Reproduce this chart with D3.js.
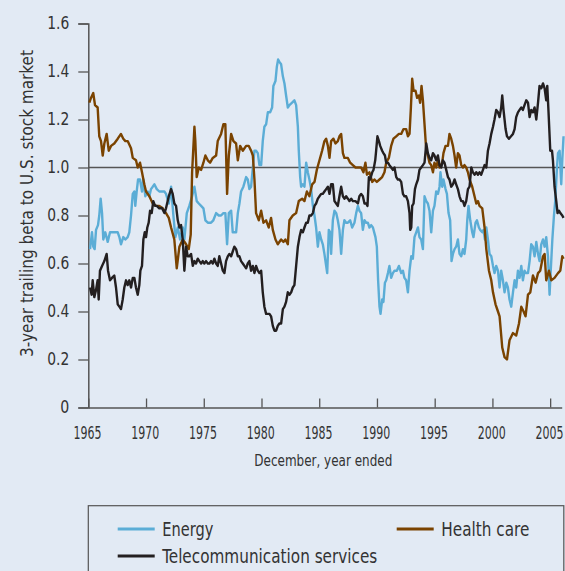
<!DOCTYPE html>
<html>
<head>
<meta charset="utf-8">
<script src="https://cdn.jsdelivr.net/npm/d3@7"></script>
<style>
  html, body { margin: 0; padding: 0; background: #e2eaf4; }
  svg { display: block; }
  text { font-family: "DejaVu Sans Condensed", "Liberation Sans Narrow", sans-serif; fill: #333; }
</style>
</head>
<body>
<svg id="chart" width="565" height="571"></svg>
<script>
const yTicks = [0, 0.2, 0.4, 0.6, 0.8, 1.0, 1.2, 1.4, 1.6];
const xTicks = [1965, 1970, 1975, 1980, 1985, 1990, 1995, 2000, 2005];
const seriesNames = ["Energy", "Health care", "Telecommunication services"];

const energy = [
[1965.15,0.66],[1965.32,0.73],[1965.43,0.67],[1965.55,0.66],[1965.67,0.74],[1965.84,0.76],[1965.95,0.80],[1966.07,0.87],
[1966.19,0.81],[1966.30,0.70],[1966.47,0.73],[1966.68,0.69],[1966.88,0.73],[1967.11,0.73],[1967.34,0.73],[1967.55,0.73],
[1967.69,0.71],[1967.83,0.68],[1968.03,0.71],[1968.21,0.70],[1968.41,0.71],[1968.55,0.73],[1968.70,0.80],[1968.85,0.89],
[1968.99,0.90],[1969.07,0.84],[1969.19,0.90],[1969.31,0.95],[1969.48,0.95],[1969.65,0.90],[1969.77,0.95],[1969.94,0.88],
[1970.15,0.90],[1970.29,0.88],[1970.43,0.91],[1970.58,0.92],[1970.72,0.93],[1970.93,0.91],[1971.15,0.90],[1971.39,0.90],
[1971.59,0.90],[1971.73,0.89],[1971.97,0.85],[1972.17,0.92],[1972.37,0.80],[1972.54,0.71],[1972.75,0.75],[1972.95,0.70],
[1973.18,0.75],[1973.32,0.70],[1973.53,0.81],[1973.75,0.84],[1973.99,0.88],[1974.19,0.92],[1974.39,0.86],[1974.57,0.85],
[1974.77,0.84],[1974.97,0.83],[1975.14,0.78],[1975.35,0.77],[1975.63,0.77],[1975.83,0.78],[1976.07,0.81],[1976.30,0.80],
[1976.50,0.80],[1976.70,0.81],[1976.87,0.81],[1977.02,0.68],[1977.17,0.81],[1977.37,0.82],[1977.51,0.73],[1977.65,0.73],
[1977.80,0.73],[1977.95,0.81],[1978.09,0.85],[1978.23,0.90],[1978.43,0.92],[1978.67,0.96],[1978.81,0.95],[1978.95,0.91],
[1979.10,0.92],[1979.25,1.00],[1979.39,1.07],[1979.53,1.07],[1979.68,1.06],[1979.82,1.01],[1979.97,1.01],[1980.11,1.11],
[1980.25,1.17],[1980.40,1.18],[1980.55,1.23],[1980.75,1.23],[1980.92,1.25],[1981.03,1.34],[1981.21,1.36],[1981.33,1.42],
[1981.44,1.45],[1981.55,1.44],[1981.70,1.43],[1981.85,1.38],[1981.99,1.35],[1982.13,1.30],[1982.28,1.25],[1982.42,1.26],
[1982.65,1.27],[1982.85,1.28],[1983.00,1.26],[1983.15,1.17],[1983.23,1.07],[1983.35,0.96],[1983.43,0.92],[1983.58,0.93],
[1983.72,0.92],[1983.87,1.02],[1984.01,0.98],[1984.15,0.95],[1984.30,0.91],[1984.45,0.84],[1984.59,0.80],[1984.73,0.75],
[1984.88,0.67],[1985.02,0.73],[1985.17,0.70],[1985.31,0.68],[1985.45,0.64],[1985.60,0.59],[1985.69,0.56],[1985.83,0.74],
[1985.95,0.73],[1986.03,0.64],[1986.18,0.78],[1986.32,0.82],[1986.47,0.81],[1986.61,0.78],[1986.75,0.74],[1986.90,0.64],
[1987.05,0.74],[1987.18,0.78],[1987.33,0.77],[1987.48,0.77],[1987.68,0.78],[1987.85,0.75],[1988.05,0.77],[1988.20,0.81],
[1988.35,0.84],[1988.48,0.82],[1988.63,0.81],[1988.78,0.74],[1988.92,0.78],[1989.07,0.77],[1989.21,0.77],[1989.35,0.75],
[1989.50,0.76],[1989.65,0.75],[1989.87,0.71],[1989.99,0.67],[1990.10,0.53],[1990.22,0.42],[1990.31,0.39],[1990.45,0.45],
[1990.56,0.44],[1990.69,0.52],[1990.80,0.53],[1990.95,0.56],[1991.08,0.59],[1991.23,0.54],[1991.38,0.56],[1991.52,0.57],
[1991.72,0.57],[1991.90,0.59],[1992.10,0.56],[1992.25,0.57],[1992.38,0.54],[1992.53,0.53],[1992.68,0.48],[1992.82,0.57],
[1992.97,0.63],[1993.11,0.62],[1993.25,0.71],[1993.40,0.73],[1993.55,0.75],[1993.68,0.71],[1993.83,0.70],[1993.98,0.66],
[1994.12,0.88],[1994.27,0.86],[1994.41,0.85],[1994.55,0.82],[1994.70,0.73],[1994.85,0.82],[1994.98,0.84],[1995.13,0.90],
[1995.28,0.89],[1995.42,0.92],[1995.50,0.98],[1995.65,0.92],[1995.76,0.95],[1995.94,0.91],[1996.06,0.89],[1996.20,0.81],
[1996.34,0.78],[1996.46,0.61],[1996.58,0.64],[1996.72,0.66],[1996.86,0.67],[1997.01,0.70],[1997.15,0.64],[1997.30,0.63],
[1997.45,0.66],[1997.58,0.64],[1997.73,0.70],[1997.82,0.78],[1997.93,0.84],[1998.08,0.78],[1998.25,0.73],[1998.36,0.71],
[1998.54,0.77],[1998.66,0.78],[1998.83,0.75],[1998.94,0.74],[1999.12,0.73],[1999.23,0.74],[1999.35,0.70],[1999.47,0.75],
[1999.61,0.70],[1999.75,0.64],[1999.90,0.63],[2000.05,0.59],[2000.18,0.56],[2000.33,0.59],[2000.48,0.57],[2000.62,0.50],
[2000.76,0.57],[2000.91,0.53],[2001.05,0.48],[2001.20,0.52],[2001.34,0.50],[2001.48,0.45],[2001.63,0.42],[2001.78,0.48],
[2001.92,0.53],[2002.06,0.50],[2002.21,0.57],[2002.35,0.54],[2002.50,0.59],[2002.64,0.53],[2002.78,0.57],[2002.92,0.56],
[2003.08,0.56],[2003.22,0.61],[2003.36,0.68],[2003.51,0.67],[2003.65,0.63],[2003.80,0.69],[2003.95,0.64],[2004.08,0.61],
[2004.23,0.68],[2004.38,0.70],[2004.52,0.67],[2004.66,0.71],[2004.81,0.63],[2004.95,0.47],[2005.04,0.56],[2005.19,0.70],
[2005.33,0.80],[2005.44,0.86],[2005.59,1.00],[2005.68,1.06],[2005.82,1.07],[2005.96,0.93],[2006.05,1.03],[2006.16,1.13]
];

const healthCare = [
[1965.09,1.27],[1965.23,1.29],[1965.43,1.31],[1965.58,1.26],[1965.81,1.25],[1965.95,1.13],[1966.10,1.11],[1966.25,1.05],
[1966.39,1.10],[1966.59,1.14],[1966.77,1.07],[1966.97,1.09],[1967.25,1.10],[1967.55,1.12],[1967.83,1.14],[1968.03,1.12],
[1968.21,1.11],[1968.41,1.11],[1968.70,1.08],[1968.85,1.04],[1969.13,1.03],[1969.28,1.00],[1969.48,1.02],[1969.65,0.98],
[1969.85,0.93],[1970.00,0.90],[1970.29,0.88],[1970.58,0.85],[1970.87,0.84],[1971.15,0.84],[1971.45,0.83],[1971.73,0.81],
[1971.97,0.79],[1972.17,0.75],[1972.45,0.70],[1972.66,0.58],[1972.89,0.67],[1973.18,0.70],[1973.47,0.68],[1973.70,0.66],
[1973.87,0.72],[1973.99,0.98],[1974.19,1.17],[1974.27,1.11],[1974.39,0.96],[1974.57,1.00],[1974.77,0.99],[1974.97,1.02],
[1975.14,1.05],[1975.35,1.03],[1975.55,1.02],[1975.78,1.04],[1976.07,1.05],[1976.21,1.11],[1976.50,1.14],[1976.70,1.18],
[1976.87,1.18],[1977.02,0.89],[1977.17,1.05],[1977.37,1.14],[1977.57,1.11],[1977.80,1.10],[1977.95,1.03],[1978.15,1.09],
[1978.38,1.07],[1978.67,1.09],[1978.90,1.09],[1979.10,1.07],[1979.25,1.05],[1979.39,0.95],[1979.53,0.81],[1979.77,0.78],
[1979.97,0.82],[1980.17,0.77],[1980.40,0.78],[1980.63,0.75],[1980.83,0.79],[1980.98,0.74],[1981.21,0.70],[1981.41,0.68],
[1981.70,0.70],[1981.90,0.69],[1982.07,0.70],[1982.28,0.68],[1982.42,0.78],[1982.71,0.80],[1983.00,0.81],[1983.23,0.86],
[1983.52,0.87],[1983.72,0.86],[1983.93,0.90],[1984.15,0.88],[1984.39,0.93],[1984.59,0.94],[1984.79,0.99],[1985.02,1.03],
[1985.25,1.07],[1985.45,1.11],[1985.60,1.12],[1985.75,1.09],[1985.89,1.04],[1986.03,1.11],[1986.23,1.12],[1986.41,1.10],
[1986.61,1.11],[1986.75,1.13],[1986.90,1.14],[1987.05,1.06],[1987.18,1.04],[1987.48,1.04],[1987.68,1.02],[1987.91,1.01],
[1988.14,1.00],[1988.35,1.00],[1988.63,1.00],[1988.83,0.98],[1989.00,1.02],[1989.13,0.97],[1989.35,0.98],[1989.59,0.94],
[1989.78,0.95],[1989.99,0.94],[1990.22,0.95],[1990.45,0.96],[1990.65,0.98],[1990.80,1.02],[1991.03,1.04],[1991.23,1.09],
[1991.43,1.12],[1991.67,1.13],[1991.90,1.14],[1992.10,1.14],[1992.30,1.16],[1992.53,1.16],[1992.68,1.13],[1992.82,1.14],
[1992.94,1.25],[1993.05,1.37],[1993.17,1.32],[1993.34,1.32],[1993.48,1.29],[1993.63,1.30],[1993.74,1.27],[1993.86,1.34],
[1993.98,1.28],[1994.12,1.18],[1994.27,1.07],[1994.41,1.05],[1994.55,1.02],[1994.70,1.01],[1994.85,0.98],[1994.98,1.02],
[1995.13,1.00],[1995.28,1.03],[1995.42,1.00],[1995.65,1.02],[1995.76,1.06],[1995.94,1.09],[1996.15,1.09],[1996.28,1.14],
[1996.43,1.12],[1996.58,1.09],[1996.72,1.05],[1996.86,1.00],[1997.01,1.06],[1997.15,1.05],[1997.30,1.01],[1997.45,1.00],
[1997.58,1.01],[1997.73,1.00],[1997.88,0.98],[1998.02,0.95],[1998.25,0.92],[1998.45,0.88],[1998.60,0.85],[1998.75,0.86],
[1998.88,0.84],[1999.12,0.83],[1999.32,0.75],[1999.47,0.66],[1999.70,0.57],[1999.90,0.53],[2000.05,0.48],[2000.27,0.43],
[2000.48,0.40],[2000.62,0.38],[2000.85,0.25],[2001.05,0.21],[2001.26,0.20],[2001.48,0.28],[2001.78,0.31],[2002.06,0.30],
[2002.30,0.35],[2002.50,0.42],[2002.70,0.40],[2002.87,0.38],[2003.08,0.47],[2003.28,0.48],[2003.51,0.55],[2003.74,0.52],
[2003.95,0.56],[2004.14,0.57],[2004.38,0.63],[2004.52,0.64],[2004.66,0.53],[2004.90,0.57],[2005.10,0.53],[2005.38,0.54],
[2005.68,0.56],[2005.88,0.57],[2006.05,0.63],[2006.16,0.62]
];

const telecom = [
[1965.15,0.50],[1965.29,0.47],[1965.38,0.53],[1965.52,0.46],[1965.67,0.49],[1965.81,0.53],[1965.90,0.45],[1966.01,0.57],
[1966.19,0.59],[1966.39,0.61],[1966.59,0.64],[1966.71,0.57],[1966.88,0.53],[1967.05,0.54],[1967.25,0.55],[1967.40,0.50],
[1967.55,0.43],[1967.69,0.42],[1967.83,0.41],[1967.98,0.45],[1968.12,0.50],[1968.27,0.53],[1968.41,0.51],[1968.55,0.53],
[1968.70,0.50],[1968.85,0.54],[1968.99,0.54],[1969.13,0.50],[1969.28,0.47],[1969.42,0.51],[1969.51,0.57],[1969.65,0.59],
[1969.77,0.70],[1969.89,0.73],[1970.00,0.71],[1970.11,0.75],[1970.23,0.77],[1970.35,0.82],[1970.49,0.81],[1970.63,0.86],
[1970.78,0.84],[1970.93,0.84],[1971.15,0.83],[1971.39,0.83],[1971.59,0.81],[1971.73,0.83],[1971.97,0.88],[1972.17,0.91],
[1972.31,0.89],[1972.45,0.85],[1972.60,0.84],[1972.75,0.78],[1972.89,0.75],[1973.03,0.76],[1973.18,0.70],[1973.32,0.57],
[1973.47,0.67],[1973.61,0.63],[1973.75,0.63],[1973.90,0.64],[1974.05,0.59],[1974.19,0.61],[1974.33,0.60],[1974.48,0.62],
[1974.62,0.61],[1974.77,0.60],[1974.91,0.61],[1975.05,0.60],[1975.20,0.61],[1975.35,0.60],[1975.49,0.60],[1975.63,0.61],
[1975.78,0.60],[1975.92,0.62],[1976.07,0.60],[1976.21,0.59],[1976.35,0.63],[1976.50,0.60],[1976.65,0.57],[1976.79,0.56],
[1976.93,0.61],[1977.08,0.63],[1977.22,0.64],[1977.37,0.63],[1977.51,0.65],[1977.65,0.67],[1977.80,0.66],[1977.95,0.63],
[1978.09,0.63],[1978.23,0.61],[1978.38,0.60],[1978.52,0.59],[1978.67,0.58],[1978.81,0.60],[1978.95,0.61],[1979.10,0.57],
[1979.25,0.59],[1979.39,0.56],[1979.53,0.59],[1979.68,0.57],[1979.82,0.56],[1979.97,0.57],[1980.11,0.48],[1980.25,0.42],
[1980.40,0.39],[1980.55,0.39],[1980.69,0.39],[1980.83,0.38],[1980.98,0.34],[1981.12,0.32],[1981.27,0.32],[1981.41,0.34],
[1981.55,0.35],[1981.70,0.35],[1981.85,0.41],[1981.99,0.42],[1982.13,0.44],[1982.28,0.48],[1982.42,0.47],[1982.57,0.48],
[1982.71,0.50],[1982.85,0.51],[1983.00,0.59],[1983.15,0.67],[1983.29,0.71],[1983.43,0.74],[1983.58,0.73],[1983.72,0.75],
[1983.87,0.77],[1984.01,0.77],[1984.15,0.80],[1984.30,0.80],[1984.45,0.81],[1984.59,0.84],[1984.73,0.85],[1984.88,0.87],
[1985.02,0.88],[1985.17,0.89],[1985.31,0.89],[1985.45,0.90],[1985.60,0.91],[1985.75,0.92],[1985.89,0.89],[1986.03,0.93],
[1986.18,0.93],[1986.32,0.86],[1986.47,0.85],[1986.61,0.84],[1986.75,0.88],[1986.90,0.92],[1987.05,0.88],[1987.18,0.87],
[1987.33,0.88],[1987.48,0.87],[1987.62,0.86],[1987.77,0.87],[1987.91,0.86],[1988.14,0.86],[1988.35,0.85],[1988.48,0.88],
[1988.63,0.89],[1988.78,0.88],[1988.92,0.85],[1989.07,0.85],[1989.18,0.84],[1989.30,0.96],[1989.41,0.95],[1989.59,0.98],
[1989.70,0.99],[1989.85,1.03],[1989.93,1.07],[1990.04,1.13],[1990.17,1.11],[1990.28,1.09],[1990.45,1.07],[1990.56,1.06],
[1990.69,1.05],[1990.80,1.02],[1990.95,1.02],[1991.08,1.01],[1991.23,1.00],[1991.38,0.99],[1991.52,1.00],[1991.67,0.96],
[1991.81,0.95],[1991.95,0.95],[1992.10,0.94],[1992.25,0.89],[1992.38,0.88],[1992.53,0.88],[1992.68,0.86],[1992.82,0.81],
[1992.88,0.74],[1992.97,0.75],[1993.05,0.84],[1993.17,0.85],[1993.29,0.91],[1993.40,0.93],[1993.55,0.95],[1993.68,0.99],
[1993.83,1.00],[1993.98,1.01],[1994.12,1.02],[1994.27,1.10],[1994.41,1.06],[1994.55,1.04],[1994.70,1.03],[1994.85,1.06],
[1994.98,1.05],[1995.13,1.03],[1995.28,1.05],[1995.42,1.01],[1995.57,1.00],[1995.71,1.03],[1995.85,1.02],[1996.00,0.99],
[1996.15,0.96],[1996.28,0.95],[1996.43,0.92],[1996.58,0.93],[1996.72,0.95],[1996.86,0.93],[1997.01,0.91],[1997.15,0.88],
[1997.30,0.86],[1997.45,0.86],[1997.58,0.84],[1997.73,0.86],[1997.88,0.91],[1998.02,0.92],[1998.17,1.00],[1998.31,0.98],
[1998.45,0.97],[1998.60,0.98],[1998.75,0.97],[1998.88,0.98],[1999.03,0.97],[1999.18,0.99],[1999.32,1.01],[1999.47,1.00],
[1999.61,1.07],[1999.75,1.10],[1999.90,1.14],[2000.05,1.17],[2000.18,1.20],[2000.33,1.24],[2000.48,1.23],[2000.62,1.21],
[2000.76,1.25],[2000.85,1.30],[2000.96,1.24],[2001.14,1.16],[2001.26,1.13],[2001.43,1.12],[2001.61,1.13],[2001.78,1.14],
[2001.92,1.16],[2002.06,1.21],[2002.21,1.23],[2002.35,1.24],[2002.50,1.25],[2002.64,1.24],[2002.78,1.26],[2002.93,1.28],
[2003.08,1.27],[2003.22,1.21],[2003.36,1.24],[2003.51,1.23],[2003.65,1.25],[2003.80,1.20],[2003.95,1.27],[2004.08,1.34],
[2004.23,1.33],[2004.38,1.35],[2004.52,1.33],[2004.66,1.28],[2004.75,1.34],[2004.86,1.23],[2005.01,1.07],[2005.16,1.07],
[2005.24,1.03],[2005.38,0.92],[2005.53,0.86],[2005.64,0.81],[2005.77,0.82],[2005.88,0.81],[2006.05,0.80],[2006.16,0.79]
];

const colors = ["#5badd6", "#7a4300", "#231f20"];

const svg = d3.select("#chart");
svg.append("rect").attr("width", 565).attr("height", 571).attr("fill", "#e2eaf4");

const x = d3.scaleLinear().domain([1965, 2006]).range([88.3, 561.7]);
const y = d3.scaleLinear().domain([0, 1.6]).range([407.5, 23.5]);

const axisColor = "#555";
const fam = '"DejaVu Sans Condensed", "Liberation Sans Narrow", sans-serif';

// squeeze a text horizontally to a target width (keeps its height)
function squeeze(sel, target, cx) {
  sel.each(function(d) {
    const t = typeof target === "function" ? target(d) : target;
    const w = this.getComputedTextLength();
    const s = w > 0 ? t / w : 1;
    const c = cx || 0;
    d3.select(this).attr("transform", `translate(${c},0) scale(${s},1) translate(${-c},0)`);
  });
}

// y axis
const yAxis = svg.append("g").attr("transform", "translate(88.3,0)")
  .call(d3.axisLeft(y).tickValues(yTicks).tickSize(10).tickPadding(9)
    .tickFormat(d => d === 0 ? "0" : d3.format(".1f")(d)));
yAxis.select(".domain").attr("stroke", axisColor).attr("stroke-width", 1.5);
yAxis.selectAll(".tick line").attr("stroke", axisColor).attr("stroke-width", 1.3);
yAxis.selectAll(".tick text").attr("font-size", 17).attr("fill", "#333")
  .style("font-family", fam)
  .attr("textLength", d => d === 0 ? 9 : 22).attr("lengthAdjust", "spacingAndGlyphs");

// x axis
const xAxis = svg.append("g").attr("transform", "translate(0,407.5)")
  .call(d3.axisBottom(x).tickValues(xTicks).tickSizeInner(-9).tickSizeOuter(0).tickPadding(8)
    .tickFormat(d3.format("d")));
xAxis.select(".domain").attr("stroke", axisColor).attr("stroke-width", 1.5);
xAxis.selectAll(".tick line").attr("stroke", axisColor).attr("stroke-width", 1.3);
xAxis.selectAll(".tick text").attr("font-size", 17).attr("fill", "#333")
  .attr("y", 31.5).attr("dy", 0).attr("x", -1.2)
  .style("font-family", fam)
  .call(squeeze, 28, -1.2);

// reference line at 1.0
svg.append("line")
  .attr("x1", x(1965)).attr("x2", x(2006.3))
  .attr("y1", y(1.0)).attr("y2", y(1.0))
  .attr("stroke", axisColor).attr("stroke-width", 1.5);

// lines
const line = d3.line().x(d => x(d[0])).y(d => y(d[1]));
const allSeries = [energy, healthCare, telecom];
allSeries.forEach((s, i) => {
  svg.append("path").datum(s)
    .attr("fill", "none")
    .attr("stroke", colors[i])
    .attr("stroke-width", 2.4)
    .attr("stroke-linejoin", "round")
    .attr("d", line);
});

// axis titles
svg.append("text")
  .attr("x", 323.3).attr("y", 466)
  .attr("text-anchor", "middle").attr("font-size", 15)
  .attr("textLength", 138).attr("lengthAdjust", "spacingAndGlyphs")
  .text("December, year ended");

svg.append("text")
  .attr("transform", "translate(33,203.5) rotate(-90)")
  .attr("text-anchor", "middle").attr("font-size", 17)
  .attr("textLength", 307).attr("lengthAdjust", "spacingAndGlyphs")
  .text("3-year trailing beta to U.S. stock market");

// legend
svg.append("rect")
  .attr("x", 88.3).attr("y", 505.7).attr("width", 475.5).attr("height", 80)
  .attr("fill", "none").attr("stroke", "#555").attr("stroke-width", 1.2);

const legendItems = [
  {name: seriesNames[0], color: colors[0], lx: 117.7, ly: 529, w: 51},
  {name: seriesNames[1], color: colors[1], lx: 396.7, ly: 529, w: 88},
  {name: seriesNames[2], color: colors[2], lx: 117.7, ly: 556, w: 215}
];
legendItems.forEach(it => {
  svg.append("line").attr("x1", it.lx).attr("x2", it.lx + 37)
    .attr("y1", it.ly).attr("y2", it.ly)
    .attr("stroke", it.color).attr("stroke-width", 3);
  svg.append("text").attr("x", it.lx + 44.6).attr("y", it.ly + 6.5)
    .attr("font-size", 19)
    .attr("textLength", it.w).attr("lengthAdjust", "spacingAndGlyphs")
    .text(it.name);
});
</script>
</body>
</html>
